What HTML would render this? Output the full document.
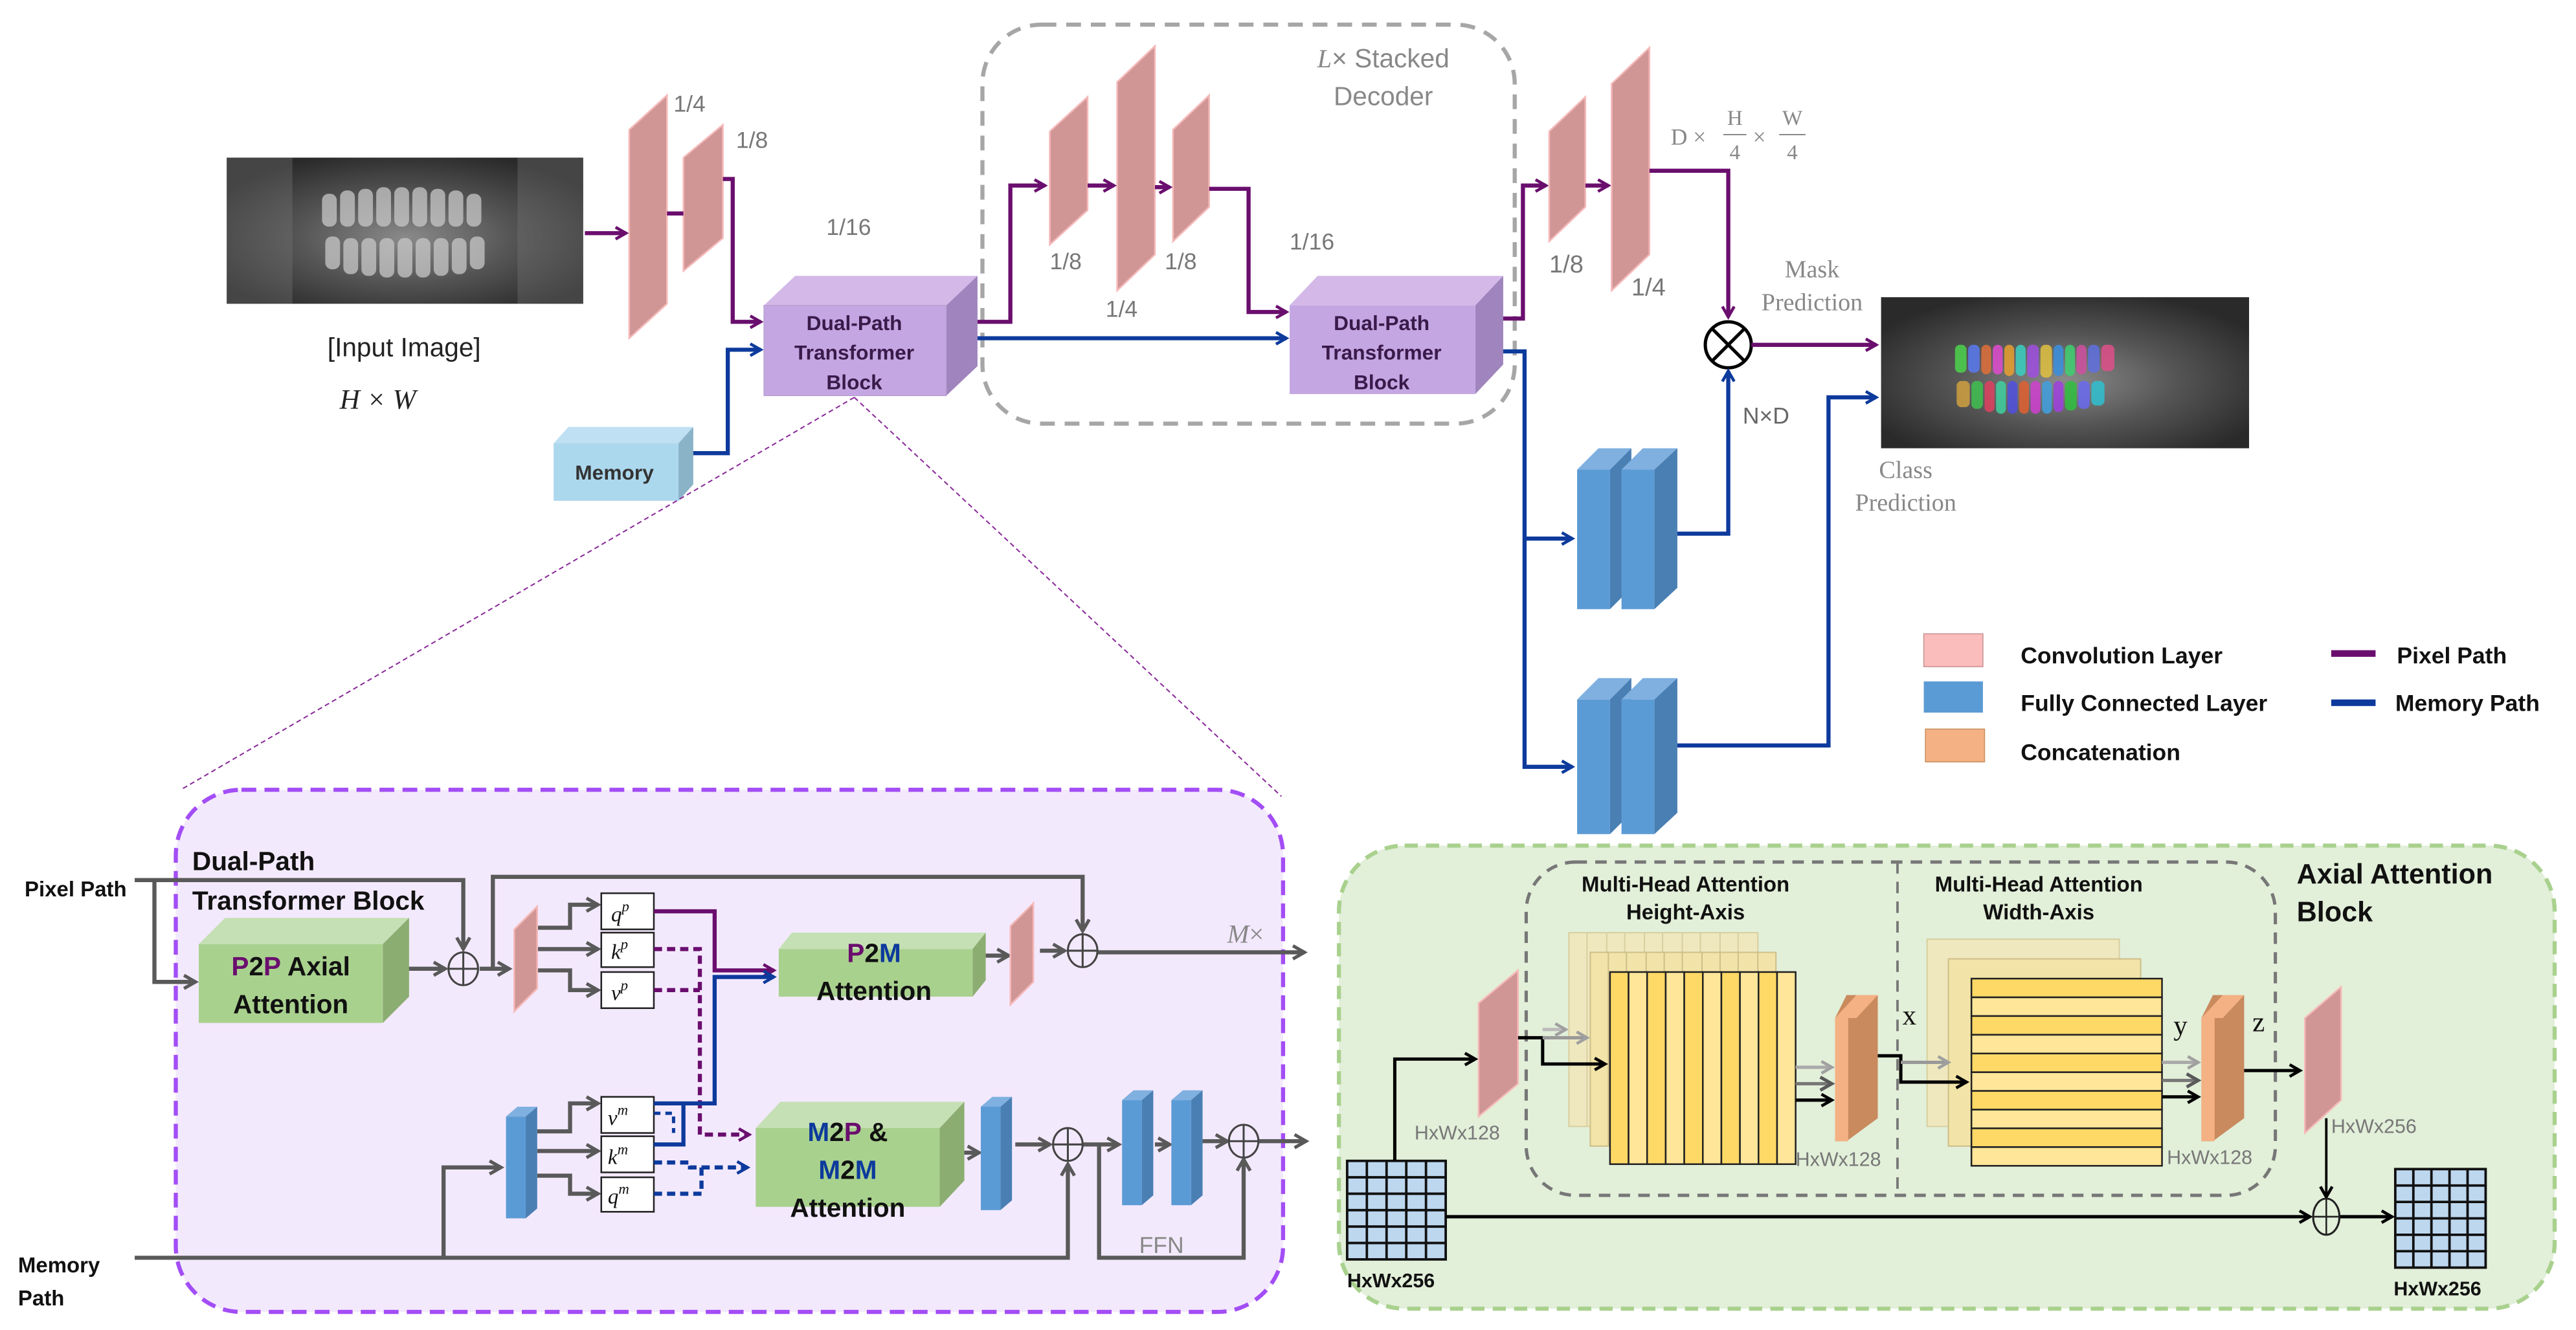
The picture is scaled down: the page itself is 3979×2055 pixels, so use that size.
<!DOCTYPE html>
<html><head><meta charset="utf-8"><style>
html,body{margin:0;padding:0;background:#fff;}
svg{display:block;}
text{font-family:"Liberation Sans Narrow","Liberation Sans",sans-serif;}
.b{font-weight:bold;}
.sf{font-family:"Liberation Serif",serif;}
</style></head><body>
<svg width="3979" height="2055" viewBox="0 0 1568 810" preserveAspectRatio="none" xmlns="http://www.w3.org/2000/svg">
<defs>
<marker id="ap" viewBox="0 0 10 10" refX="8" refY="5" markerWidth="9" markerHeight="9" markerUnits="userSpaceOnUse" orient="auto"><path d="M1,1 L8,5 L1,9" fill="none" stroke="#6a0e6e" stroke-width="2"/></marker>
<marker id="ab" viewBox="0 0 10 10" refX="8" refY="5" markerWidth="9" markerHeight="9" markerUnits="userSpaceOnUse" orient="auto"><path d="M1,1 L8,5 L1,9" fill="none" stroke="#0d3a9c" stroke-width="2"/></marker>
<marker id="ag" viewBox="0 0 10 10" refX="8" refY="5" markerWidth="10" markerHeight="10" markerUnits="userSpaceOnUse" orient="auto"><path d="M1,1 L8,5 L1,9" fill="none" stroke="#595959" stroke-width="2"/></marker>
<marker id="ak" viewBox="0 0 10 10" refX="8" refY="5" markerWidth="9" markerHeight="9" markerUnits="userSpaceOnUse" orient="auto"><path d="M1,1 L8,5 L1,9" fill="none" stroke="#000" stroke-width="2"/></marker>
<marker id="al" viewBox="0 0 10 10" refX="8" refY="5" markerWidth="9" markerHeight="9" markerUnits="userSpaceOnUse" orient="auto"><path d="M1,1 L8,5 L1,9" fill="none" stroke="#a0a0a0" stroke-width="2"/></marker>
<radialGradient id="xr" cx="50%" cy="55%" r="60%"><stop offset="0" stop-color="#8a8a8a"/><stop offset="0.5" stop-color="#555"/><stop offset="1" stop-color="#2a2a2a"/></radialGradient>
</defs>

<!-- ===== TOP ===== -->
<rect x="138" y="96" width="217" height="89" fill="url(#xr)"/>
<g fill="#c8c8c8" opacity="0.75">
<rect x="196" y="118" width="9" height="20" rx="4"/><rect x="207" y="116" width="9" height="22" rx="4"/><rect x="218" y="115" width="9" height="23" rx="4"/><rect x="229" y="114" width="9" height="24" rx="4"/><rect x="240" y="114" width="9" height="24" rx="4"/><rect x="251" y="114" width="9" height="24" rx="4"/><rect x="262" y="115" width="9" height="23" rx="4"/><rect x="273" y="116" width="9" height="22" rx="4"/><rect x="284" y="118" width="9" height="20" rx="4"/>
<rect x="198" y="144" width="9" height="20" rx="4"/><rect x="209" y="145" width="9" height="22" rx="4"/><rect x="220" y="145" width="9" height="23" rx="4"/><rect x="231" y="145" width="9" height="24" rx="4"/><rect x="242" y="145" width="9" height="24" rx="4"/><rect x="253" y="145" width="9" height="24" rx="4"/><rect x="264" y="145" width="9" height="23" rx="4"/><rect x="275" y="145" width="9" height="22" rx="4"/><rect x="286" y="144" width="9" height="20" rx="4"/>
</g>
<rect x="138" y="96" width="40" height="89" fill="#777" opacity="0.35"/>
<rect x="315" y="96" width="40" height="89" fill="#777" opacity="0.35"/>
<text x="246" y="217" font-size="16" text-anchor="middle" fill="#222">[Input Image]</text>
<text x="230" y="249" font-size="17" text-anchor="middle" class="sf" font-style="italic" fill="#222">H  × W</text>

<polygon points="383,79 406,58 406,185 383,206" fill="#d09696" stroke="#f6b9b9" stroke-width="1"/>
<polygon points="416,96 440,76 440,145 416,165" fill="#d09696" stroke="#f6b9b9" stroke-width="1"/>
<text x="410" y="68" font-size="14" fill="#777">1/4</text>
<text x="448" y="90" font-size="14" fill="#777">1/8</text>
<text x="503" y="143" font-size="14" fill="#777">1/16</text>
<line x1="356" y1="142" x2="381" y2="142" stroke="#6a0e6e" stroke-width="2.5" marker-end="url(#ap)"/>
<line x1="406" y1="130" x2="416" y2="130" stroke="#6a0e6e" stroke-width="2.5"/>
<polyline points="440,109 446,109 446,196 463,196" fill="none" stroke="#6a0e6e" stroke-width="2.5" marker-end="url(#ap)"/>

<!-- DPTB1 -->
<polygon points="465,186 484,168 595,168 576,186" fill="#d3b8e8"/>
<polygon points="576,186 595,168 595,223 576,241" fill="#9f84bd"/>
<rect x="465" y="186" width="111" height="55" fill="#c4a6e2" stroke="#b8a0d0" stroke-width="0.5"/>
<text x="520" y="201" font-size="12.5" class="b" text-anchor="middle" fill="#3a1a4a">Dual-Path</text>
<text x="520" y="219" font-size="12.5" class="b" text-anchor="middle" fill="#3a1a4a">Transformer</text>
<text x="520" y="237" font-size="12.5" class="b" text-anchor="middle" fill="#3a1a4a">Block</text>

<!-- Memory -->
<polygon points="337,270 346,260 422,260 413,270" fill="#bfe0f2"/>
<polygon points="413,270 422,260 422,295 413,305" fill="#8ab3c8"/>
<rect x="337" y="270" width="76" height="35" fill="#acd8ee"/>
<text x="374" y="292" font-size="12.5" class="b" text-anchor="middle" fill="#333">Memory</text>
<polyline points="422,276 443,276 443,213 463,213" fill="none" stroke="#0d3a9c" stroke-width="2.5" marker-end="url(#ab)"/>

<!-- decoder dashed -->
<rect x="598" y="15" width="324" height="243" rx="36" fill="none" stroke="#a6a6a6" stroke-width="2.5" stroke-dasharray="9,6"/>
<text x="842" y="41" font-size="16" text-anchor="middle" fill="#888"><tspan class="sf" font-style="italic">L</tspan>× Stacked</text>
<text x="842" y="64" font-size="16" text-anchor="middle" fill="#888">Decoder</text>

<polyline points="595,196 615,196 615,113 636,113" fill="none" stroke="#6a0e6e" stroke-width="2.5" marker-end="url(#ap)"/>
<line x1="595" y1="206" x2="783" y2="206" stroke="#0d3a9c" stroke-width="2.5" marker-end="url(#ab)"/>
<polygon points="639,80 662,59 662,128 639,149" fill="#d09696" stroke="#f6b9b9" stroke-width="1"/>
<polygon points="680,50 703,28 703,155 680,177" fill="#d09696" stroke="#f6b9b9" stroke-width="1"/>
<polygon points="714,79 736,58 736,126 714,147" fill="#d09696" stroke="#f6b9b9" stroke-width="1"/>
<line x1="662" y1="113" x2="678" y2="113" stroke="#6a0e6e" stroke-width="2.5" marker-end="url(#ap)"/>
<line x1="703" y1="114" x2="712" y2="114" stroke="#6a0e6e" stroke-width="2.5" marker-end="url(#ap)"/>
<polyline points="736,115 760,115 760,190 783,190" fill="none" stroke="#6a0e6e" stroke-width="2.5" marker-end="url(#ap)"/>
<text x="639" y="164" font-size="14" fill="#777">1/8</text>
<text x="673" y="193" font-size="14" fill="#777">1/4</text>
<text x="709" y="164" font-size="14" fill="#777">1/8</text>
<text x="785" y="152" font-size="14" fill="#777">1/16</text>

<!-- DPTB2 -->
<polygon points="785,186 802,168 915,168 898,186" fill="#d3b8e8"/>
<polygon points="898,186 915,168 915,222 898,240" fill="#9f84bd"/>
<rect x="785" y="186" width="113" height="54" fill="#c4a6e2"/>
<text x="841" y="201" font-size="12.5" class="b" text-anchor="middle" fill="#3a1a4a">Dual-Path</text>
<text x="841" y="219" font-size="12.5" class="b" text-anchor="middle" fill="#3a1a4a">Transformer</text>
<text x="841" y="237" font-size="12.5" class="b" text-anchor="middle" fill="#3a1a4a">Block</text>

<!-- right of DPTB2 -->
<polyline points="915,194 927,194 927,113 941,113" fill="none" stroke="#6a0e6e" stroke-width="2.5" marker-end="url(#ap)"/>
<polygon points="943,80 965,59 965,126 943,147" fill="#d09696" stroke="#f6b9b9" stroke-width="1"/>
<line x1="965" y1="113" x2="979" y2="113" stroke="#6a0e6e" stroke-width="2.5" marker-end="url(#ap)"/>
<polygon points="981,51 1004,29 1004,155 981,177" fill="#d09696" stroke="#f6b9b9" stroke-width="1"/>
<text x="943" y="166" font-size="15" fill="#777">1/8</text>
<text x="993" y="180" font-size="15" fill="#777">1/4</text>
<text x="1017" y="88" font-size="14" class="sf" fill="#888">D ×</text>
<text x="1056" y="76" font-size="13" class="sf" fill="#888" text-anchor="middle">H</text>
<line x1="1049" y1="82" x2="1063" y2="82" stroke="#888" stroke-width="0.8"/>
<text x="1056" y="97" font-size="13" class="sf" fill="#888" text-anchor="middle">4</text>
<text x="1067" y="88" font-size="14" class="sf" fill="#888">×</text>
<text x="1091" y="76" font-size="13" class="sf" fill="#888" text-anchor="middle">W</text>
<line x1="1083" y1="82" x2="1099" y2="82" stroke="#888" stroke-width="0.8"/>
<text x="1091" y="97" font-size="13" class="sf" fill="#888" text-anchor="middle">4</text>
<polyline points="1004,104 1052,104 1052,193" fill="none" stroke="#6a0e6e" stroke-width="2.5" marker-end="url(#ap)"/>
<circle cx="1052" cy="210" r="14" fill="#fff" stroke="#000" stroke-width="2"/>
<line x1="1042" y1="200" x2="1062" y2="220" stroke="#000" stroke-width="2"/>
<line x1="1062" y1="200" x2="1042" y2="220" stroke="#000" stroke-width="2"/>
<line x1="1066" y1="210" x2="1142" y2="210" stroke="#6a0e6e" stroke-width="2.5" marker-end="url(#ap)"/>
<text x="1103" y="169" font-size="15" class="sf" fill="#888" text-anchor="middle">Mask</text>
<text x="1103" y="189" font-size="15" class="sf" fill="#888" text-anchor="middle">Prediction</text>
<rect x="1145" y="181" width="224" height="92" fill="url(#xr)"/>
<g opacity="0.85">
<rect x="1190" y="210" width="7" height="17" rx="3" fill="#4cd24c"/><rect x="1198" y="210" width="7" height="17" rx="3" fill="#5a7af0"/><rect x="1206" y="210" width="6" height="18" rx="3" fill="#e0703a"/><rect x="1213" y="210" width="6" height="18" rx="3" fill="#e04cd0"/><rect x="1220" y="210" width="6" height="19" rx="3" fill="#e8a030"/><rect x="1227" y="210" width="6" height="19" rx="3" fill="#3ad0c0"/><rect x="1234" y="210" width="7" height="20" rx="3" fill="#a050e0"/><rect x="1242" y="210" width="7" height="20" rx="3" fill="#e0c040"/><rect x="1250" y="210" width="6" height="19" rx="3" fill="#3a90e0"/><rect x="1257" y="210" width="6" height="19" rx="3" fill="#40d070"/><rect x="1264" y="210" width="6" height="18" rx="3" fill="#d050a0"/><rect x="1271" y="210" width="7" height="17" rx="3" fill="#6070e0"/><rect x="1279" y="210" width="8" height="16" rx="3" fill="#e0508a"/>
<rect x="1191" y="232" width="8" height="16" rx="3" fill="#d0a040"/><rect x="1200" y="232" width="7" height="17" rx="3" fill="#40c050"/><rect x="1208" y="232" width="6" height="19" rx="3" fill="#e04060"/><rect x="1215" y="232" width="6" height="20" rx="3" fill="#40d0a0"/><rect x="1222" y="232" width="6" height="20" rx="3" fill="#5050e0"/><rect x="1229" y="232" width="6" height="20" rx="3" fill="#e06030"/><rect x="1236" y="232" width="6" height="20" rx="3" fill="#d040d0"/><rect x="1243" y="232" width="6" height="20" rx="3" fill="#40a0e0"/><rect x="1250" y="232" width="6" height="19" rx="3" fill="#a040e0"/><rect x="1257" y="232" width="7" height="18" rx="3" fill="#30c040"/><rect x="1265" y="232" width="7" height="17" rx="3" fill="#6a6af0"/><rect x="1273" y="232" width="8" height="15" rx="3" fill="#30c0d0"/>
</g>
<polyline points="915,214 928,214 928,467 957,467" fill="none" stroke="#0d3a9c" stroke-width="2.5" marker-end="url(#ab)"/>
<line x1="928" y1="328" x2="957" y2="328" stroke="#0d3a9c" stroke-width="2.5" marker-end="url(#ab)"/>
<!-- FC pairs -->
<g>
<polygon points="960,286 973,273 993,273 980,286" fill="#7fb0e0"/><polygon points="980,286 993,273 993,358 980,371" fill="#4a7fb3"/><rect x="960" y="286" width="20" height="85" fill="#5b9bd5"/>
<polygon points="987,286 1000,273 1021,273 1007,286" fill="#7fb0e0"/><polygon points="1007,286 1021,273 1021,358 1007,371" fill="#4a7fb3"/><rect x="987" y="286" width="20" height="85" fill="#5b9bd5"/>
<polygon points="960,426 973,413 993,413 980,426" fill="#7fb0e0"/><polygon points="980,426 993,413 993,495 980,508" fill="#4a7fb3"/><rect x="960" y="426" width="20" height="82" fill="#5b9bd5"/>
<polygon points="987,426 1000,413 1021,413 1007,426" fill="#7fb0e0"/><polygon points="1007,426 1021,413 1021,495 1007,508" fill="#4a7fb3"/><rect x="987" y="426" width="20" height="82" fill="#5b9bd5"/>
</g>
<polyline points="1021,325 1052,325 1052,226" fill="none" stroke="#0d3a9c" stroke-width="2.5" marker-end="url(#ab)"/>
<text x="1075" y="258" font-size="14" fill="#666" text-anchor="middle">N×D</text>
<polyline points="1021,454 1113,454 1113,242 1142,242" fill="none" stroke="#0d3a9c" stroke-width="2.5" marker-end="url(#ab)"/>
<text x="1160" y="291" font-size="15" class="sf" fill="#888" text-anchor="middle">Class</text>
<text x="1160" y="311" font-size="15" class="sf" fill="#888" text-anchor="middle">Prediction</text>

<!-- legend -->
<rect x="1171" y="386" width="36" height="20" fill="#fbbcbc" stroke="#c89090" stroke-width="0.6"/>
<rect x="1171" y="415" width="36" height="19" fill="#5b9bd5"/>
<rect x="1172" y="444" width="36" height="20" fill="#f4b183" stroke="#c89060" stroke-width="0.6"/>
<text x="1230" y="404" font-size="14" class="b" fill="#111">Convolution Layer</text>
<text x="1230" y="433" font-size="14" class="b" fill="#111">Fully Connected Layer</text>
<text x="1230" y="463" font-size="14" class="b" fill="#111">Concatenation</text>
<line x1="1419" y1="398" x2="1446" y2="398" stroke="#6a0e6e" stroke-width="4"/>
<line x1="1419" y1="428" x2="1446" y2="428" stroke="#0d3a9c" stroke-width="4"/>
<text x="1459" y="404" font-size="14" class="b" fill="#111">Pixel Path</text>
<text x="1458" y="433" font-size="14" class="b" fill="#111">Memory Path</text>

<!-- zoom lines -->
<line x1="520" y1="242" x2="110" y2="481" stroke="#8a2a9a" stroke-width="0.8" stroke-dasharray="3,2"/>
<line x1="520" y1="242" x2="780" y2="485" stroke="#8a2a9a" stroke-width="0.8" stroke-dasharray="3,2"/>

<!-- ===== BOTTOM LEFT ===== -->
<rect x="107" y="481" width="674" height="318" rx="40" fill="#f3e9fd" stroke="#a34df5" stroke-width="2.5" stroke-dasharray="9,5"/>
<text x="117" y="530" font-size="16" class="b" fill="#111">Dual-Path</text>
<text x="117" y="554" font-size="16" class="b" fill="#111">Transformer Block</text>
<text x="15" y="546" font-size="13" class="b" fill="#111">Pixel Path</text>
<text x="11" y="775" font-size="13" class="b" fill="#111">Memory</text>
<text x="11" y="795" font-size="13" class="b" fill="#111">Path</text>

<g stroke="#595959" stroke-width="2.5" fill="none">
<polyline points="82,536 282,536 282,578" marker-end="url(#ag)"/>
<polyline points="94,536 94,598 119,598" marker-end="url(#ag)"/>
<line x1="242" y1="590" x2="271" y2="590" marker-end="url(#ag)"/>
<line x1="292" y1="590" x2="310" y2="590" marker-end="url(#ag)"/>
<polyline points="300,590 300,534 659,534 659,567" marker-end="url(#ag)"/>
<polyline points="327,565 347,565 347,551 364,551" marker-end="url(#ag)"/>
<line x1="327" y1="578" x2="364" y2="578" marker-end="url(#ag)"/>
<polyline points="327,591 347,591 347,603 364,603" marker-end="url(#ag)"/>
<line x1="600" y1="582" x2="614" y2="582" marker-end="url(#ag)"/>
<line x1="633" y1="579" x2="648" y2="579" marker-end="url(#ag)"/>
<line x1="668" y1="580" x2="794" y2="580" marker-end="url(#ag)"/>
<polyline points="82,766 650,766 650,709" marker-end="url(#ag)"/>
<polyline points="270,766 270,711 305,711" marker-end="url(#ag)"/>
<polyline points="327,689 347,689 347,672 364,672" marker-end="url(#ag)"/>
<line x1="327" y1="701" x2="364" y2="701" marker-end="url(#ag)"/>
<polyline points="327,716 347,716 347,727 364,727" marker-end="url(#ag)"/>
<line x1="582" y1="702" x2="596" y2="702" marker-end="url(#ag)"/>
<line x1="618" y1="697" x2="639" y2="697" marker-end="url(#ag)"/>
<line x1="659" y1="697" x2="681" y2="697" marker-end="url(#ag)"/>
<line x1="703" y1="697" x2="712" y2="697" marker-end="url(#ag)"/>
<line x1="732" y1="695" x2="747" y2="695" marker-end="url(#ag)"/>
<line x1="766" y1="695" x2="795" y2="695" marker-end="url(#ag)"/>
<polyline points="669,697 669,766 757,766 757,706" marker-end="url(#ag)"/>
</g>
<!-- circles -->
<g fill="#f3e9fd" stroke="#444" stroke-width="1.2">
<ellipse cx="282" cy="590" rx="9" ry="10"/><line x1="273" y1="590" x2="291" y2="590"/><line x1="282" y1="580" x2="282" y2="600"/>
<ellipse cx="659" cy="579" rx="9" ry="10"/><line x1="650" y1="579" x2="668" y2="579"/><line x1="659" y1="569" x2="659" y2="589"/>
<ellipse cx="650" cy="697" rx="9" ry="10"/><line x1="641" y1="697" x2="659" y2="697"/><line x1="650" y1="687" x2="650" y2="707"/>
<ellipse cx="757" cy="695" rx="9" ry="10"/><line x1="748" y1="695" x2="766" y2="695"/><line x1="757" y1="685" x2="757" y2="705"/>
</g>
<!-- P2P -->
<polygon points="121,575 137,559 249,559 233,575" fill="#c5e0b4"/>
<polygon points="233,575 249,559 249,607 233,623" fill="#8cad72"/>
<rect x="121" y="575" width="112" height="48" fill="#a9d18e"/>
<text x="177" y="594" font-size="16" class="b" text-anchor="middle" fill="#111"><tspan fill="#6a0e6e">P</tspan>2<tspan fill="#6a0e6e">P</tspan> Axial</text>
<text x="177" y="617" font-size="16" class="b" text-anchor="middle" fill="#111">Attention</text>
<polygon points="313,566 327,552 327,602 313,616" fill="#d09696" stroke="#f6b9b9" stroke-width="1"/>
<!-- qkv p -->
<g fill="#fff" stroke="#222" stroke-width="1">
<rect x="366" y="544" width="32" height="22"/><rect x="366" y="568" width="32" height="21"/><rect x="366" y="592" width="32" height="22"/>
<rect x="366" y="668" width="32" height="22"/><rect x="366" y="692" width="32" height="22"/><rect x="366" y="717" width="32" height="21"/>
</g>
<g font-style="italic" font-size="13" fill="#111">
<text x="372" y="561" class="sf">q<tspan font-size="9" dy="-6">p</tspan></text>
<text x="372" y="584" class="sf">k<tspan font-size="9" dy="-6">p</tspan></text>
<text x="372" y="609" class="sf">v<tspan font-size="9" dy="-6">p</tspan></text>
<text x="370" y="685" class="sf">v<tspan font-size="9" dy="-6">m</tspan></text>
<text x="370" y="709" class="sf">k<tspan font-size="9" dy="-6">m</tspan></text>
<text x="370" y="733" class="sf">q<tspan font-size="9" dy="-6">m</tspan></text>
</g>
<polyline points="398,555 435,555 435,591 471,591" fill="none" stroke="#6a0e6e" stroke-width="2.5" marker-end="url(#ap)"/>
<polyline points="398,578 426,578 426,691 456,691" fill="none" stroke="#6a0e6e" stroke-width="2.5" stroke-dasharray="5,3" marker-end="url(#ap)"/>
<line x1="398" y1="603" x2="426" y2="603" stroke="#6a0e6e" stroke-width="2.5" stroke-dasharray="5,3"/>
<polyline points="398,672 435,672 435,595 471,595" fill="none" stroke="#0d3a9c" stroke-width="2.5" marker-end="url(#ab)"/>
<polyline points="398,697 416,697 416,672" fill="none" stroke="#0d3a9c" stroke-width="2.5"/>
<polyline points="398,678 410,678 410,690" fill="none" stroke="#0d3a9c" stroke-width="2" stroke-dasharray="4,3"/>
<polyline points="398,708 420,708 420,711 455,711" fill="none" stroke="#0d3a9c" stroke-width="2.5" stroke-dasharray="5,3" marker-end="url(#ab)"/>
<polyline points="398,727 427,727 427,711" fill="none" stroke="#0d3a9c" stroke-width="2.5" stroke-dasharray="5,3"/>
<!-- P2M -->
<polygon points="474,578 482,568 600,568 592,578" fill="#c5e0b4"/>
<polygon points="592,578 600,568 600,597 592,607" fill="#8cad72"/>
<rect x="474" y="578" width="118" height="29" fill="#a9d18e"/>
<text x="532" y="586" font-size="16" class="b" text-anchor="middle"><tspan fill="#6a0e6e">P</tspan><tspan fill="#111">2</tspan><tspan fill="#0d3a9c">M</tspan></text>
<text x="532" y="609" font-size="16" class="b" text-anchor="middle" fill="#111">Attention</text>
<polygon points="615,564 629,550 629,598 615,612" fill="#d09696" stroke="#f6b9b9" stroke-width="1"/>
<text x="747" y="574" font-size="16" class="sf" font-style="italic" fill="#888">M<tspan font-style="normal">×</tspan></text>
<!-- memory FC slabs -->
<g>
<polygon points="308,680 315,674 327,674 320,680" fill="#7fb0e0"/><polygon points="320,680 327,674 327,736 320,742" fill="#4a7fb3"/><rect x="308" y="680" width="12" height="62" fill="#5b9bd5"/>
<polygon points="597,674 604,668 616,668 609,674" fill="#7fb0e0"/><polygon points="609,674 616,668 616,731 609,737" fill="#4a7fb3"/><rect x="597" y="674" width="12" height="63" fill="#5b9bd5"/>
<polygon points="683,670 690,664 702,664 695,670" fill="#7fb0e0"/><polygon points="695,670 702,664 702,728 695,734" fill="#4a7fb3"/><rect x="683" y="670" width="12" height="64" fill="#5b9bd5"/>
<polygon points="713,670 720,664 732,664 725,670" fill="#7fb0e0"/><polygon points="725,670 732,664 732,728 725,734" fill="#4a7fb3"/><rect x="713" y="670" width="12" height="64" fill="#5b9bd5"/>
</g>
<!-- M2P -->
<polygon points="460,687 475,671 587,671 572,687" fill="#c5e0b4"/>
<polygon points="572,687 587,671 587,719 572,735" fill="#8cad72"/>
<rect x="460" y="687" width="112" height="48" fill="#a9d18e"/>
<text x="516" y="695" font-size="16" class="b" text-anchor="middle"><tspan fill="#0d3a9c">M</tspan><tspan fill="#111">2</tspan><tspan fill="#6a0e6e">P</tspan><tspan fill="#111"> &amp;</tspan></text>
<text x="516" y="718" font-size="16" class="b" text-anchor="middle" fill="#0d3a9c">M<tspan fill="#111">2</tspan>M</text>
<text x="516" y="741" font-size="16" class="b" text-anchor="middle" fill="#111">Attention</text>
<text x="707" y="763" font-size="14" fill="#888" text-anchor="middle">FFN</text>

<!-- ===== AXIAL ATTENTION ===== -->
<rect x="815" y="515" width="740" height="282" rx="40" fill="#e2efd9" stroke="#a9d18e" stroke-width="2.5" stroke-dasharray="8,5"/>
<rect x="929" y="525" width="456" height="203" rx="30" fill="none" stroke="#777" stroke-width="2" stroke-dasharray="7,5"/>
<line x1="1155" y1="525" x2="1155" y2="728" stroke="#777" stroke-width="1.5" stroke-dasharray="7,5"/>
<text x="1026" y="543" font-size="13" class="b" text-anchor="middle" fill="#111">Multi-Head Attention</text>
<text x="1026" y="560" font-size="13" class="b" text-anchor="middle" fill="#111">Height-Axis</text>
<text x="1241" y="543" font-size="13" class="b" text-anchor="middle" fill="#111">Multi-Head Attention</text>
<text x="1241" y="560" font-size="13" class="b" text-anchor="middle" fill="#111">Width-Axis</text>
<text x="1398" y="538" font-size="17" class="b" fill="#111">Axial Attention</text>
<text x="1398" y="561" font-size="17" class="b" fill="#111">Block</text>

<!-- grids -->
<g stroke="#111" stroke-width="1.5">
<rect x="820" y="707" width="60" height="60" fill="#bdd7ee"/>
<line x1="832" y1="707" x2="832" y2="767"/><line x1="844" y1="707" x2="844" y2="767"/><line x1="856" y1="707" x2="856" y2="767"/><line x1="868" y1="707" x2="868" y2="767"/>
<line x1="820" y1="717" x2="880" y2="717"/><line x1="820" y1="727" x2="880" y2="727"/><line x1="820" y1="737" x2="880" y2="737"/><line x1="820" y1="747" x2="880" y2="747"/><line x1="820" y1="757" x2="880" y2="757"/>
<rect x="1458" y="712" width="55" height="60" fill="#bdd7ee"/>
<line x1="1469" y1="712" x2="1469" y2="772"/><line x1="1480" y1="712" x2="1480" y2="772"/><line x1="1491" y1="712" x2="1491" y2="772"/><line x1="1502" y1="712" x2="1502" y2="772"/>
<line x1="1458" y1="722" x2="1513" y2="722"/><line x1="1458" y1="732" x2="1513" y2="732"/><line x1="1458" y1="742" x2="1513" y2="742"/><line x1="1458" y1="752" x2="1513" y2="752"/><line x1="1458" y1="762" x2="1513" y2="762"/>
</g>
<text x="820" y="784" font-size="12" class="b" fill="#111">HxWx256</text>
<text x="1457" y="789" font-size="12" class="b" fill="#111">HxWx256</text>

<!-- height stacks -->
<rect x="955" y="568" width="115" height="118" fill="#efe8bf" stroke="#d8cfa0" stroke-width="0.8"/>
<g stroke="#d8cfa0" stroke-width="0.8"><line x1="966" y1="568" x2="966" y2="686"/><line x1="978" y1="568" x2="978" y2="686"/><line x1="989" y1="568" x2="989" y2="686"/><line x1="1001" y1="568" x2="1001" y2="686"/><line x1="1012" y1="568" x2="1012" y2="686"/><line x1="1024" y1="568" x2="1024" y2="686"/><line x1="1035" y1="568" x2="1035" y2="686"/><line x1="1047" y1="568" x2="1047" y2="686"/><line x1="1058" y1="568" x2="1058" y2="686"/></g>
<rect x="968" y="580" width="113" height="118" fill="#f2e4a8" stroke="#cdbf88" stroke-width="0.8"/>
<g stroke="#cdbf88" stroke-width="0.8"><line x1="979" y1="580" x2="979" y2="698"/><line x1="990" y1="580" x2="990" y2="698"/><line x1="1002" y1="580" x2="1002" y2="698"/><line x1="1013" y1="580" x2="1013" y2="698"/><line x1="1024" y1="580" x2="1024" y2="698"/><line x1="1036" y1="580" x2="1036" y2="698"/><line x1="1047" y1="580" x2="1047" y2="698"/><line x1="1058" y1="580" x2="1058" y2="698"/><line x1="1070" y1="580" x2="1070" y2="698"/></g>
<g stroke="#222" stroke-width="1">
<rect x="980" y="592" width="11.3" height="117" fill="#ffd966"/><rect x="991.3" y="592" width="11.3" height="117" fill="#ffe699"/><rect x="1002.6" y="592" width="11.3" height="117" fill="#ffd966"/><rect x="1013.9" y="592" width="11.3" height="117" fill="#ffe699"/><rect x="1025.2" y="592" width="11.3" height="117" fill="#ffd966"/><rect x="1036.5" y="592" width="11.3" height="117" fill="#ffe699"/><rect x="1047.8" y="592" width="11.3" height="117" fill="#ffd966"/><rect x="1059.1" y="592" width="11.3" height="117" fill="#ffe699"/><rect x="1070.4" y="592" width="11.3" height="117" fill="#ffd966"/><rect x="1081.7" y="592" width="11.3" height="117" fill="#ffe699"/>
</g>
<!-- width stacks -->
<rect x="1173" y="572" width="117" height="114" fill="#efe8bf" stroke="#d8cfa0" stroke-width="0.8"/>
<rect x="1186" y="584" width="117" height="114" fill="#f2e4a8" stroke="#cdbf88" stroke-width="0.8"/>
<g stroke="#222" stroke-width="1">
<rect x="1200" y="596" width="116" height="11.4" fill="#ffd966"/><rect x="1200" y="607.4" width="116" height="11.4" fill="#ffe699"/><rect x="1200" y="618.8" width="116" height="11.4" fill="#ffd966"/><rect x="1200" y="630.2" width="116" height="11.4" fill="#ffe699"/><rect x="1200" y="641.6" width="116" height="11.4" fill="#ffd966"/><rect x="1200" y="653" width="116" height="11.4" fill="#ffe699"/><rect x="1200" y="664.4" width="116" height="11.4" fill="#ffd966"/><rect x="1200" y="675.8" width="116" height="11.4" fill="#ffe699"/><rect x="1200" y="687.2" width="116" height="11.4" fill="#ffd966"/><rect x="1200" y="698.6" width="116" height="11.4" fill="#ffe699"/>
</g>
<!-- slabs -->
<polygon points="900,611 924,591 924,660 900,680" fill="#d09696" stroke="#f6b9b9" stroke-width="1"/>
<polygon points="1117,620 1124,606 1143,606 1143,681 1124,695 1117,695" fill="#c98a5e"/>
<polygon points="1117,620 1130,606 1143,606 1130,620" fill="#f4b183"/>
<rect x="1117" y="620" width="8" height="75" fill="#f4b183"/>
<polygon points="1340,620 1347,606 1366,606 1366,681 1347,695 1340,695" fill="#c98a5e"/>
<polygon points="1340,620 1353,606 1366,606 1353,620" fill="#f4b183"/>
<rect x="1340" y="620" width="8" height="75" fill="#f4b183"/>
<polygon points="1403,620 1425,601 1425,670 1403,690" fill="#d09696" stroke="#f6b9b9" stroke-width="1"/>
<text x="861" y="694" font-size="12" fill="#777">HxWx128</text>
<text x="1093" y="710" font-size="12" fill="#777">HxWx128</text>
<text x="1319" y="709" font-size="12" fill="#777">HxWx128</text>
<text x="1419" y="690" font-size="12" fill="#777">HxWx256</text>
<text x="1158" y="624" font-size="17" class="sf" fill="#111">x</text>
<text x="1323" y="630" font-size="17" class="sf" fill="#111">y</text>
<text x="1371" y="628" font-size="17" class="sf" fill="#111">z</text>
<!-- axial arrows -->
<g fill="none" stroke-width="2">
<polyline points="849,707 849,645 898,645" stroke="#000" marker-end="url(#ak)"/>
<polyline points="924,632 939,632 939,648 977,648" stroke="#000" marker-end="url(#ak)"/>
<line x1="939" y1="632" x2="966" y2="632" stroke="#999" marker-end="url(#al)"/>
<line x1="939" y1="627" x2="953" y2="627" stroke="#bbb" marker-end="url(#al)"/>
<line x1="1093" y1="650" x2="1115" y2="650" stroke="#aaa" marker-end="url(#al)"/>
<line x1="1093" y1="660" x2="1115" y2="660" stroke="#777" marker-end="url(#ag)"/>
<line x1="1093" y1="670" x2="1115" y2="670" stroke="#000" marker-end="url(#ak)"/>
<polyline points="1143,643 1157,643 1157,659 1197,659" stroke="#000" marker-end="url(#ak)"/>
<line x1="1157" y1="647" x2="1186" y2="647" stroke="#999" marker-end="url(#al)"/>
<line x1="1316" y1="647" x2="1338" y2="647" stroke="#aaa" marker-end="url(#al)"/>
<line x1="1316" y1="658" x2="1338" y2="658" stroke="#777" marker-end="url(#ag)"/>
<line x1="1316" y1="668" x2="1338" y2="668" stroke="#000" marker-end="url(#ak)"/>
<line x1="1366" y1="652" x2="1400" y2="652" stroke="#000" marker-end="url(#ak)"/>
<line x1="1416" y1="681" x2="1416" y2="729" stroke="#000" stroke-width="1.5" marker-end="url(#ak)"/>
<line x1="880" y1="741" x2="1406" y2="741" stroke="#000" marker-end="url(#ak)"/>
<line x1="1424" y1="741" x2="1456" y2="741" stroke="#000" marker-end="url(#ak)"/>
</g>
<ellipse cx="1416" cy="741" rx="8" ry="11" fill="#e2efd9" stroke="#222" stroke-width="1.2"/>
<line x1="1408" y1="741" x2="1424" y2="741" stroke="#222" stroke-width="1"/>
<line x1="1416" y1="730" x2="1416" y2="752" stroke="#222" stroke-width="1"/>
</svg>
</body></html>
